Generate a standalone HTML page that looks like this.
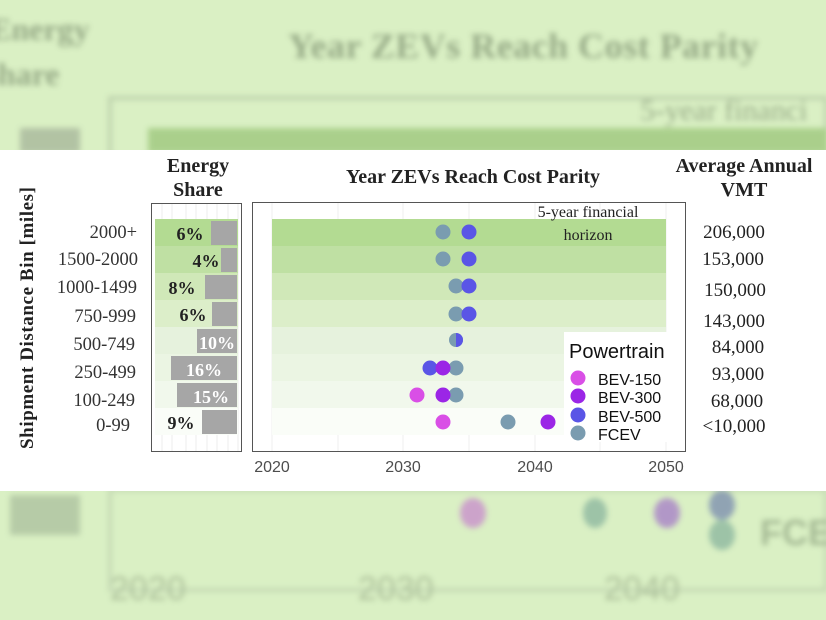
<!DOCTYPE html>
<html><head><meta charset="utf-8"><style>
html,body{margin:0;padding:0;width:826px;height:620px;overflow:hidden;background:#daf0c4;}
svg{display:block}
</style></head><body>
<svg width="826" height="620" xmlns="http://www.w3.org/2000/svg">
<defs><filter id="b"><feGaussianBlur stdDeviation="3"/></filter></defs>
<rect width="826" height="620" fill="#daf0c4"/>
<g filter="url(#b)" opacity="0.8">
 <text x="523" y="58" font-family="Liberation Serif" font-weight="bold" font-size="36" fill="#869a78" text-anchor="middle" textLength="470">Year ZEVs Reach Cost Parity</text>
 <text x="-10" y="40" font-family="Liberation Serif" font-weight="bold" font-size="32" fill="#869a78">Energy</text>
 <text x="-20" y="85" font-family="Liberation Serif" font-weight="bold" font-size="32" fill="#869a78">Share</text>
 <rect x="110" y="98" width="716" height="60" fill="none" stroke="#b8cca8" stroke-width="4"/>
 <rect x="148" y="128" width="680" height="25" fill="#9fc87e"/>
 <rect x="20" y="128" width="60" height="25" fill="#a9b89c"/>
 <text x="640" y="120" font-family="Liberation Serif" font-size="30" fill="#869a78">5-year financi</text>
 <rect x="110" y="490" width="716" height="100" fill="none" stroke="#c0d4b0" stroke-width="4"/>
 <rect x="10" y="495" width="70" height="40" fill="#aec3a0"/>
 <ellipse cx="473" cy="513" rx="13" ry="15" fill="#c990cc"/>
 <ellipse cx="595" cy="513" rx="12" ry="15" fill="#8eb8a0"/>
 <ellipse cx="667" cy="513" rx="13" ry="15" fill="#a882c8"/>
 <ellipse cx="722" cy="505" rx="13" ry="15" fill="#7e90b0"/>
 <ellipse cx="722" cy="535" rx="13" ry="15" fill="#8eb8a0"/>
 <text x="760" y="545" font-family="Liberation Sans" font-weight="bold" font-size="36" fill="#9aae8a">FCE</text>
 <text x="110" y="600" font-family="Liberation Sans" font-size="34" fill="#a0b490">2020</text>
 <text x="358" y="600" font-family="Liberation Sans" font-size="34" fill="#a0b490">2030</text>
 <text x="604" y="600" font-family="Liberation Sans" font-size="34" fill="#a0b490">2040</text>
</g>
<rect x="0" y="150" width="826" height="341" fill="#ffffff"/>

<text transform="translate(33,318) rotate(-90)" font-family="Liberation Serif" font-weight="bold" font-size="19" fill="#222" text-anchor="middle" textLength="262">Shipment Distance Bin [miles]</text>
<g font-family="Liberation Serif" font-size="18.5" fill="#333" text-anchor="end">
<text x="137" y="238">2000+</text><text x="138" y="265">1500-2000</text><text x="137" y="293">1000-1499</text><text x="136" y="322">750-999</text><text x="135" y="350">500-749</text><text x="136" y="378">250-499</text><text x="135" y="406">100-249</text><text x="130" y="431">0-99</text>
</g>
<g font-family="Liberation Serif" font-weight="bold" font-size="20" fill="#222" text-anchor="middle">
<text x="198" y="172">Energy</text><text x="198" y="196">Share</text>
<text x="473" y="183">Year ZEVs Reach Cost Parity</text>
<text x="744" y="172">Average Annual</text><text x="744" y="196">VMT</text>
</g>

<rect x="151.5" y="203.5" width="90" height="248" fill="#fff" stroke="#555" stroke-width="1"/>
<g fill="none" stroke="#ececec"><path d="M162 204V451M172 204V451M186 204V451M196 204V451M207 204V451M217 204V451M228 204V451M238 204V451"/></g>
<rect x="155" y="219" width="83" height="27" fill="#b3db92"/>
<rect x="155" y="246" width="83" height="27" fill="#bfe0a3"/>
<rect x="155" y="273" width="83" height="27" fill="#d0e8b8"/>
<rect x="155" y="300" width="83" height="27" fill="#dceec9"/>
<rect x="155" y="327" width="83" height="27" fill="#e6f2dd"/>
<rect x="155" y="354" width="83" height="27" fill="#ebf5e3"/>
<rect x="155" y="381" width="83" height="27" fill="#f1f8ec"/>
<rect x="155" y="408" width="83" height="27" fill="#fafdf8"/>
<g fill="#a6a6a6">
<rect x="211" y="221" width="26" height="24"/><rect x="221" y="248" width="16" height="24"/><rect x="205" y="275" width="32" height="24"/><rect x="212" y="302" width="25" height="24"/><rect x="197" y="329" width="40" height="24"/><rect x="171" y="356" width="66" height="24"/><rect x="177" y="383" width="60" height="24"/><rect x="202" y="410" width="35" height="24"/>
</g>
<g font-family="Liberation Serif" font-weight="bold" font-size="18" text-anchor="middle">
<text x="190" y="240" fill="#222">6%</text><text x="206" y="267" fill="#222">4%</text><text x="182" y="294" fill="#222">8%</text><text x="193" y="321" fill="#222">6%</text><text x="217" y="349" fill="#fff">10%</text><text x="204" y="376" fill="#fff">16%</text><text x="211" y="403" fill="#fff">15%</text><text x="181" y="429" fill="#222">9%</text>
</g>

<rect x="252.5" y="202.5" width="433" height="249" fill="#fff" stroke="#555" stroke-width="1"/>
<g fill="none" stroke="#efefef"><path d="M272 203V451M338 203V451M403 203V451M469 203V451M535 203V451M600 203V451M666 203V451"/></g>
<rect x="272" y="219" width="394" height="27" fill="#b3db92"/>
<rect x="272" y="246" width="394" height="27" fill="#bfe0a3"/>
<rect x="272" y="273" width="394" height="27" fill="#d0e8b8"/>
<rect x="272" y="300" width="394" height="27" fill="#dceec9"/>
<rect x="272" y="327" width="394" height="27" fill="#e6f2dd"/>
<rect x="272" y="354" width="394" height="27" fill="#ebf5e3"/>
<rect x="272" y="381" width="394" height="27" fill="#f1f8ec"/>
<rect x="272" y="408" width="394" height="27" fill="#fafdf8"/>
<g font-family="Liberation Serif" font-size="16" fill="#222" text-anchor="middle">
<text x="588" y="217">5-year financial</text><text x="588" y="240">horizon</text>
</g>
<circle cx="443" cy="232" r="7.5" fill="#7a9cb0"/><circle cx="469" cy="232" r="7.5" fill="#5a55e6"/>
<circle cx="443" cy="259" r="7.5" fill="#7a9cb0"/><circle cx="469" cy="259" r="7.5" fill="#5a55e6"/>
<circle cx="456" cy="286" r="7.5" fill="#7a9cb0"/><circle cx="469" cy="286" r="7.5" fill="#5a55e6"/>
<circle cx="456" cy="314" r="7.5" fill="#7a9cb0"/><circle cx="469" cy="314" r="7.5" fill="#5a55e6"/>
<circle cx="456" cy="340" r="7" fill="#7a9cb0"/><path d="M456 333A7 7 0 0 1 456 347Z" fill="#5a55e6"/>
<circle cx="430" cy="368" r="7.5" fill="#5a55e6"/><circle cx="456" cy="368" r="7.5" fill="#7a9cb0"/><circle cx="443" cy="368" r="7.5" fill="#9b26e6"/>
<circle cx="417" cy="395" r="7.5" fill="#d94fe6"/><circle cx="456" cy="395" r="7.5" fill="#7a9cb0"/><circle cx="443" cy="395" r="7.5" fill="#9b26e6"/>
<circle cx="443" cy="422" r="7.5" fill="#d94fe6"/><circle cx="508" cy="422" r="7.5" fill="#7a9cb0"/><circle cx="548" cy="422" r="7.5" fill="#9b26e6"/>
<rect x="564" y="332" width="116" height="110" fill="#fff"/>
<text x="569" y="358" font-family="Liberation Sans" font-size="20" fill="#111">Powertrain</text>
<circle cx="578" cy="378" r="7.5" fill="#d94fe6"/><circle cx="578" cy="396" r="7.5" fill="#9b26e6"/><circle cx="578" cy="415" r="7.5" fill="#5a55e6"/><circle cx="578" cy="433" r="7.5" fill="#7a9cb0"/>
<g font-family="Liberation Sans" font-size="16" fill="#111">
<text x="598" y="385">BEV-150</text><text x="598" y="403">BEV-300</text><text x="598" y="422">BEV-500</text><text x="598" y="440">FCEV</text>
</g>
<g font-family="Liberation Sans" font-size="16" fill="#4d4d4d" text-anchor="middle">
<text x="272" y="472">2020</text><text x="403" y="472">2030</text><text x="535" y="472">2040</text><text x="666" y="472">2050</text>
</g>
<g font-family="Liberation Serif" font-size="19" fill="#222" text-anchor="middle">
<text x="734" y="238">206,000</text><text x="733" y="265">153,000</text><text x="735" y="296">150,000</text><text x="734" y="327">143,000</text><text x="738" y="353">84,000</text><text x="738" y="380">93,000</text><text x="737" y="407">68,000</text><text x="734" y="432">&lt;10,000</text>
</g>
</svg>
</body></html>
